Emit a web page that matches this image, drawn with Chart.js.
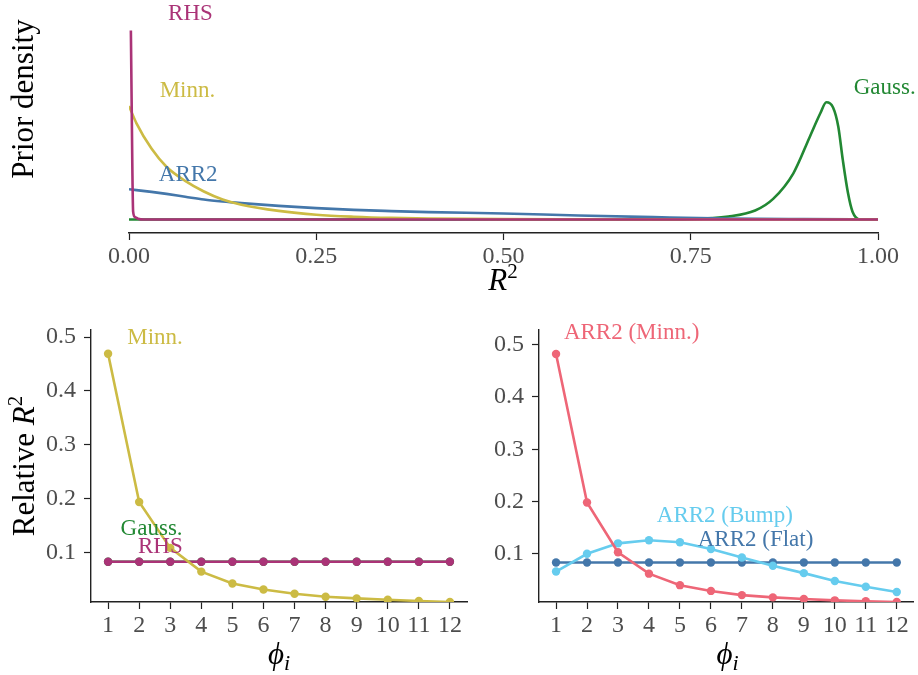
<!DOCTYPE html>
<html>
<head>
<meta charset="utf-8">
<script src="https://cdn.jsdelivr.net/npm/chart.js@4.4.1/dist/chart.umd.min.js"></script>
<style>
  body { margin: 0; background: #fff; }
  #wrap { position: relative; width: 918px; height: 675px; }
  #wrap canvas { position: absolute; left: 0; top: 0; }
</style>
</head>
<body>
<div id="wrap">
  <canvas id="priorChart" width="918" height="675"></canvas>
  <canvas id="leftChart" width="918" height="675"></canvas>
  <canvas id="rightChart" width="918" height="675"></canvas>
</div>
<script>
// top panel: prior densities of R2 (no y scale shown, arbitrary units)
const r2Grid = [0, 0.01, 0.03, 0.05, 0.075, 0.1, 0.125, 0.15, 0.2, 0.25, 0.3, 0.35, 0.4, 0.5, 0.6, 0.7, 0.8, 0.9, 1.0];
const densityMinn = [5.68, 4.81, 3.55, 2.64, 1.93, 1.40, 1.00, 0.74, 0.43, 0.24, 0.14, 0.08, 0.05, 0.02, 0.01, 0.005, 0, 0, 0];
const densityArr2 = [1.51, 1.47, 1.38, 1.28, 1.14, 1.00, 0.90, 0.82, 0.68, 0.57, 0.48, 0.42, 0.37, 0.30, 0.20, 0.12, 0.05, 0.02, 0];
const rhsGrid = [0.0025, 0.0035, 0.0045, 0.0055, 0.008, 0.012, 0.02, 0.05, 0.5, 1.0];
const densityRhs = [9.45, 6.0, 2.5, 0.4, 0.12, 0.04, 0, 0, 0, 0];
const gaussGrid = [0, 0.7, 0.75, 0.8, 0.836, 0.86, 0.887, 0.909, 0.923, 0.931, 0.94, 0.947, 0.953, 0.96, 0.966, 0.976, 1.0];
const densityGauss = [0, 0, 0.02, 0.15, 0.45, 1.03, 2.31, 4.14, 5.31, 5.86, 5.6, 4.64, 2.98, 1.31, 0.39, 0, 0];
const r2TickValues = [0, 0.25, 0.5, 0.75, 1];
const r2TickLabels = ['0.00', '0.25', '0.50', '0.75', '1.00'];

// bottom panels: relative R2 per phi_i
const phiIndex = [1, 2, 3, 4, 5, 6, 7, 8, 9, 10, 11, 12];
const relMinn = [0.469, 0.194, 0.109, 0.065, 0.043, 0.032, 0.024, 0.0185, 0.0154, 0.013, 0.0106, 0.0087];
const relGauss = [0.0833, 0.0833, 0.0833, 0.0833, 0.0833, 0.0833, 0.0833, 0.0833, 0.0833, 0.0833, 0.0833, 0.0833];
const relRhs = [0.0833, 0.0833, 0.0833, 0.0833, 0.0833, 0.0833, 0.0833, 0.0833, 0.0833, 0.0833, 0.0833, 0.0833];
const relArr2Minn = [0.482, 0.198, 0.103, 0.062, 0.040, 0.029, 0.021, 0.0166, 0.0134, 0.011, 0.0093, 0.0077];
const relArr2Bump = [0.066, 0.100, 0.120, 0.126, 0.122, 0.109, 0.093, 0.077, 0.063, 0.048, 0.037, 0.027];
const relArr2Flat = [0.0833, 0.0833, 0.0833, 0.0833, 0.0833, 0.0833, 0.0833, 0.0833, 0.0833, 0.0833, 0.0833, 0.0833];
const relTickValues = [0.1, 0.2, 0.3, 0.4, 0.5];
const relTickLabels = ['0.1', '0.2', '0.3', '0.4', '0.5'];

const SERIF = "'Liberation Serif', 'Times New Roman', serif";
const colors = {
    minn: '#CCBB44', arr2: '#4477AA', gauss: '#228833', rhs: '#AA3377',
    arr2Minn: '#EE6677', arr2Bump: '#66CCEE', arr2Flat: '#4477AA'
};
const AXIS = '#222';
const TICKTXT = '#4D4D4D';
const X_AXIS_H = 40;   // room kept under each x axis for its labels
const Y_AXIS_W = 60;   // room kept left of each y axis for its labels

Chart.defaults.font.family = SERIF;

function pairs(xs, ys) {
    return xs.map((x, i) => ({ x: x, y: ys[i] }));
}

// draws a run of text pieces (for R^2, phi_i) centred on x
function drawRich(ctx, parts, x, y, rotate) {
    ctx.save();
    ctx.translate(x, y);
    if (rotate) ctx.rotate(-Math.PI / 2);
    let total = 0;
    parts.forEach(p => { ctx.font = p.font; total += ctx.measureText(p.t).width; });
    let cx = -total / 2;
    ctx.textBaseline = 'alphabetic';
    ctx.textAlign = 'left';
    parts.forEach(p => {
        ctx.font = p.font;
        ctx.fillStyle = '#000';
        ctx.fillText(p.t, cx, p.dy || 0);
        cx += ctx.measureText(p.t).width;
    });
    ctx.restore();
}

const panelText = {
    id: 'panelText',
    afterDatasetsDraw(chart, args, opts) {
        const ctx = chart.ctx;
        const xs = chart.scales.x, ys = chart.scales.y;
        ctx.save();
        ctx.font = '23px ' + SERIF;
        ctx.textAlign = 'center';
        ctx.textBaseline = 'middle';
        (opts.labels || []).forEach(l => {
            ctx.fillStyle = l.color;
            ctx.fillText(l.text, xs.getPixelForValue(l.x), ys.getPixelForValue(l.y));
        });
        ctx.restore();
        (opts.titles || []).forEach(t => drawRich(ctx, t.parts, t.x, t.y, t.rotate));
    }
};

function xTicksFrom(values, labels, size) {
    return {
        afterFit: s => { s.height = X_AXIS_H; },
        afterBuildTicks: s => { s.ticks = values.map(v => ({ value: v })); },
        ticks: {
            callback: (v, i) => labels[i],
            color: TICKTXT, font: { size: size, family: SERIF },
            padding: 2, maxRotation: 0, autoSkip: false
        },
        grid: { drawOnChartArea: false, drawTicks: true, tickLength: 7, tickColor: AXIS, tickWidth: 1.2 },
        border: { display: true, color: AXIS, width: 1.4 }
    };
}

const phiTitle = cx => ({
    x: cx, y: 664, parts: [
        { t: '\u03D5', font: 'italic 31px ' + SERIF },
        { t: 'i', font: 'italic 22px ' + SERIF, dy: 6 }
    ]
});

// ---------- top panel ----------
new Chart(document.getElementById('priorChart'), {
    type: 'line',
    data: {
        datasets: [
            { label: 'RHS', data: pairs(rhsGrid, densityRhs), borderColor: colors.rhs, order: 0 },
            { label: 'Minn.', data: pairs(r2Grid, densityMinn), borderColor: colors.minn, order: 1 },
            { label: 'ARR2', data: pairs(r2Grid, densityArr2), borderColor: colors.arr2, order: 2 },
            { label: 'Gauss.', data: pairs(gaussGrid, densityGauss), borderColor: colors.gauss, order: 3 }
        ]
    },
    options: {
        responsive: false, animation: false, devicePixelRatio: 1,
        layout: { padding: { left: 129, right: 40, top: 20, bottom: 675 - 233 - X_AXIS_H } },
        elements: {
            line: { borderWidth: 2.6, cubicInterpolationMode: 'monotone', fill: false },
            point: { radius: 0 }
        },
        scales: {
            x: Object.assign({ type: 'linear', min: 0, max: 1 },
                xTicksFrom(r2TickValues, r2TickLabels, 24)),
            y: { type: 'linear', display: false, min: -0.675, max: 9.975 }
        },
        plugins: {
            legend: { display: false }, tooltip: { enabled: false },
            panelText: {
                labels: [
                    { text: 'RHS', x: 0.082, y: 10.28, color: colors.rhs },
                    { text: 'Minn.', x: 0.078, y: 6.44, color: colors.minn },
                    { text: 'ARR2', x: 0.079, y: 2.23, color: colors.arr2 },
                    { text: 'Gauss.', x: 1.009, y: 6.59, color: colors.gauss }
                ],
                titles: [
                    { x: 33, y: 99, rotate: true, parts: [{ t: 'Prior density', font: '31px ' + SERIF }] },
                    { x: 503, y: 290, parts: [
                        { t: 'R', font: 'italic 31px ' + SERIF },
                        { t: '2', font: '21px ' + SERIF, dy: -12 }
                    ] }
                ]
            }
        }
    },
    plugins: [panelText]
});

// ---------- bottom panels ----------
function relChart(canvasId, series, area, yRange, labels, titles) {
    new Chart(document.getElementById(canvasId), {
        type: 'line',
        data: {
            datasets: series.map((s, i) => ({
                label: s.label,
                data: pairs(phiIndex, s.values),
                borderColor: s.color,
                backgroundColor: s.color,
                pointBackgroundColor: s.color,
                order: i
            }))
        },
        options: {
            responsive: false, animation: false, devicePixelRatio: 1,
            layout: { padding: {
                left: area.left - Y_AXIS_W, right: 918 - area.right,
                top: area.top, bottom: 675 - area.bottom - X_AXIS_H
            } },
            elements: {
                line: { borderWidth: 2.6, tension: 0, fill: false },
                point: { radius: 4.2, borderWidth: 0 }
            },
            scales: {
                x: Object.assign({ type: 'linear', min: 0.45, max: 12.55 },
                    xTicksFrom(phiIndex, phiIndex.map(String), 24)),
                y: {
                    type: 'linear', min: yRange[0], max: yRange[1],
                    afterFit: s => { s.width = Y_AXIS_W; },
                    afterBuildTicks: s => { s.ticks = relTickValues.map(v => ({ value: v })); },
                    ticks: {
                        callback: (v, i) => relTickLabels[i],
                        color: TICKTXT, font: { size: 24, family: SERIF }, padding: 8
                    },
                    grid: { drawOnChartArea: false, drawTicks: true, tickLength: 7, tickColor: AXIS, tickWidth: 1.2 },
                    border: { display: true, color: AXIS, width: 1.4 }
                }
            },
            plugins: {
                legend: { display: false }, tooltip: { enabled: false },
                panelText: { labels: labels, titles: titles }
            }
        },
        plugins: [panelText]
    });
}

relChart('leftChart',
    [
        { label: 'Minn.', values: relMinn, color: colors.minn },
        { label: 'RHS', values: relRhs, color: colors.rhs },
        { label: 'Gauss.', values: relGauss, color: colors.gauss }
    ],
    { left: 91, right: 467, top: 330, bottom: 602 },
    [0.0087, 0.513],
    [
        { text: 'Minn.', x: 2.51, y: 0.4976, color: colors.minn },
        { text: 'Gauss.', x: 2.40, y: 0.144, color: colors.gauss },
        { text: 'RHS', x: 2.68, y: 0.110, color: colors.rhs }
    ],
    [
        { x: 34, y: 466, rotate: true, parts: [
            { t: 'Relative ', font: '31px ' + SERIF },
            { t: 'R', font: 'italic 31px ' + SERIF },
            { t: '2', font: '21px ' + SERIF, dy: -12 }
        ] },
        phiTitle(279)
    ]
);

relChart('rightChart',
    [
        { label: 'ARR2 (Minn.)', values: relArr2Minn, color: colors.arr2Minn },
        { label: 'ARR2 (Bump)', values: relArr2Bump, color: colors.arr2Bump },
        { label: 'ARR2 (Flat)', values: relArr2Flat, color: colors.arr2Flat }
    ],
    { left: 539, right: 916, top: 330, bottom: 602 },
    [0.0078, 0.528],
    [
        { text: 'ARR2 (Minn.)', x: 3.44, y: 0.522, color: colors.arr2Minn },
        { text: 'ARR2 (Bump)', x: 6.45, y: 0.1727, color: colors.arr2Bump },
        { text: 'ARR2 (Flat)', x: 7.44, y: 0.1258, color: colors.arr2Flat }
    ],
    [phiTitle(727.5)]
);
</script>
</body>
</html>
